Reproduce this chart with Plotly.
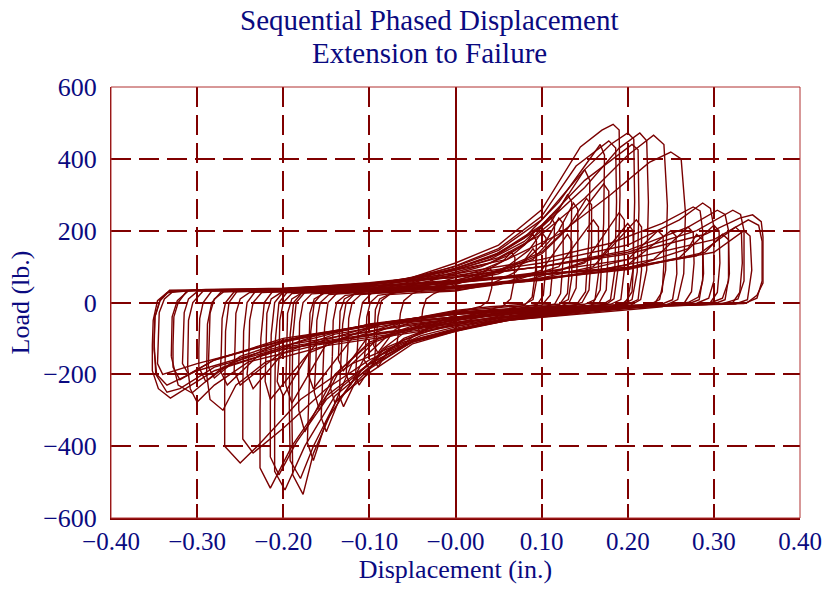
import plotly.graph_objects as go

# ---- data: hysteresis loops (displacement in., load lb.) ----
prepeak_loops = [
    [(-0.040,-60),(-0.038,-20),(-0.034,10),(-0.025,25),(-0.01,40),(0.0,50),(0.015,62),(0.03,80),(0.04,95),
     (0.043,85),(0.042,40),(0.038,5),(0.03,-10),(0.015,-20),(0.0,-35),(-0.015,-48),(-0.03,-65),(-0.04,-85),(-0.043,-75),(-0.041,-60)],
    [(-0.066,-80),(-0.064,-30),(-0.06,5),(-0.05,25),(-0.03,40),(0,60),(0.02,75),(0.04,95),(0.055,115),(0.065,140),
     (0.069,125),(0.068,60),(0.064,10),(0.055,-10),(0.03,-25),(0,-45),(-0.02,-60),(-0.04,-80),(-0.055,-105),(-0.065,-130),(-0.068,-115),(-0.066,-80)],
    [(-0.092,-100),(-0.09,-40),(-0.086,5),(-0.075,25),(-0.05,38),(-0.02,55),(0,70),(0.03,90),(0.06,120),(0.08,160),(0.09,190),
     (0.094,170),(0.093,90),(0.089,15),(0.08,-8),(0.05,-22),(0.02,-38),(0,-52),(-0.03,-72),(-0.06,-100),(-0.08,-140),(-0.09,-180),(-0.094,-160),(-0.092,-100)],
    [(-0.114,-130),(-0.112,-50),(-0.108,0),(-0.098,25),(-0.07,40),(-0.03,60),(0,80),(0.03,100),(0.06,130),(0.09,180),(0.11,240),
     (0.115,220),(0.114,120),(0.11,20),(0.1,-8),(0.07,-22),(0.03,-40),(0,-58),(-0.03,-78),(-0.06,-105),(-0.09,-150),(-0.112,-230),(-0.116,-200),(-0.114,-130)],
    [(-0.133,-160),(-0.131,-60),(-0.127,0),(-0.117,25),(-0.09,38),(-0.05,55),(0,85),(0.04,110),(0.08,160),(0.11,220),(0.13,300),
     (0.135,280),(0.134,150),(0.13,25),(0.12,-8),(0.09,-22),(0.05,-38),(0,-62),(-0.04,-85),(-0.08,-125),(-0.11,-190),(-0.13,-290),(-0.135,-260),(-0.133,-160)],
    [(-0.154,-200),(-0.152,-70),(-0.148,0),(-0.138,25),(-0.1,38),(-0.05,58),(0,90),(0.04,120),(0.08,170),(0.12,260),(0.15,370),
     (0.156,340),(0.155,180),(0.151,30),(0.14,-8),(0.1,-25),(0.05,-42),(0,-68),(-0.04,-92),(-0.08,-135),(-0.11,-190),(-0.135,-270),(-0.15,-360),(-0.156,-320),(-0.154,-200)],
    [(-0.17,-240),(-0.168,-80),(-0.164,0),(-0.154,28),(-0.11,40),(-0.05,62),(0,95),(0.04,125),(0.08,180),(0.12,280),(0.15,380),(0.168,440),
     (0.173,410),(0.172,220),(0.168,35),(0.158,-8),(0.11,-28),(0.05,-45),(0,-72),(-0.04,-98),(-0.08,-145),(-0.12,-220),(-0.15,-330),(-0.165,-440),(-0.172,-390),(-0.17,-240)],
    [(-0.19,-300),(-0.189,-100),(-0.185,0),(-0.175,28),(-0.12,42),(-0.05,70),(0,110),(0.05,160),(0.1,258),(0.145,433),(0.17,480),(0.183,496),
     (0.19,480),(0.191,300),(0.189,100),(0.184,10),(0.172,-10),(0.12,-30),(0.05,-50),(0,-80),(-0.05,-115),(-0.1,-196),(-0.138,-271),(-0.165,-420),(-0.177,-534),(-0.189,-480),(-0.19,-300)],
    [(-0.193,-280),(-0.192,-90),(-0.188,0),(-0.178,28),(-0.12,40),(-0.05,66),(0,102),(0.05,150),(0.1,240),(0.14,380),(0.178,450),
     (0.186,430),(0.187,280),(0.185,90),(0.18,8),(0.168,-10),(0.12,-28),(0.05,-48),(0,-76),(-0.05,-108),(-0.1,-185),(-0.14,-280),(-0.165,-400),(-0.18,-490),(-0.192,-440),(-0.193,-280)],
    [(-0.21,-300),(-0.209,-100),(-0.205,0),(-0.195,30),(-0.13,42),(-0.06,65),(0,100),(0.05,145),(0.1,230),(0.15,370),(0.18,440),(0.2,472),
     (0.207,455),(0.208,280),(0.206,90),(0.2,8),(0.19,-10),(0.13,-30),(0.06,-48),(0,-78),(-0.05,-110),(-0.1,-180),(-0.14,-260),(-0.175,-400),(-0.198,-522),(-0.21,-470),(-0.21,-300)],
    [(-0.215,-280),(-0.214,-90),(-0.21,0),(-0.2,30),(-0.13,40),(-0.06,62),(0,95),(0.05,138),(0.1,215),(0.15,340),(0.205,440),
     (0.212,425),(0.213,260),(0.211,85),(0.205,8),(0.19,-10),(0.13,-30),(0.06,-48),(0,-76),(-0.05,-106),(-0.1,-172),(-0.15,-270),(-0.185,-390),(-0.205,-480),(-0.215,-430),(-0.215,-280)],
    [(-0.227,-300),(-0.226,-100),(-0.222,0),(-0.212,32),(-0.14,42),(-0.06,62),(0,95),(0.05,135),(0.1,210),(0.15,320),(0.19,430),(0.214,472),
     (0.222,450),(0.224,280),(0.222,90),(0.215,8),(0.2,-12),(0.13,-32),(0.06,-50),(0,-80),(-0.05,-110),(-0.1,-170),(-0.15,-260),(-0.19,-400),(-0.215,-517),(-0.227,-460),(-0.227,-300)],
    [(-0.247,-250),(-0.246,-80),(-0.242,0),(-0.232,32),(-0.15,42),(-0.07,60),(0,92),(0.05,125),(0.1,190),(0.15,290),(0.2,410),(0.23,466),
     (0.242,440),(0.246,270),(0.244,90),(0.237,8),(0.22,-12),(0.14,-30),(0.06,-50),(0,-78),(-0.05,-108),(-0.1,-160),(-0.15,-240),(-0.2,-350),(-0.235,-419),(-0.247,-380),(-0.247,-250)],
    [(-0.268,-250),(-0.267,-80),(-0.263,0),(-0.253,33),(-0.16,42),(-0.07,60),(0,90),(0.06,120),(0.12,190),(0.18,300),(0.225,390),(0.25,419),
     (0.262,400),(0.267,250),(0.265,80),(0.258,8),(0.24,-12),(0.15,-30),(0.06,-50),(0,-76),(-0.06,-110),(-0.12,-170),(-0.18,-270),(-0.23,-400),(-0.25,-447),(-0.268,-400),(-0.268,-250)],
]

decay_loops = [
    [(-0.104,-110),(-0.103,-40),(-0.099,0),(-0.09,20),(-0.06,30),(-0.03,40),(0,52),(0.03,70),(0.06,100),(0.085,145),(0.1,195),
     (0.105,180),(0.105,100),(0.102,20),(0.095,-5),(0.07,-18),(0.03,-30),(0,-42),(-0.03,-58),(-0.06,-85),(-0.085,-130),(-0.1,-185),(-0.106,-160),(-0.104,-110)],
    [(-0.125,-130),(-0.124,-45),(-0.12,0),(-0.11,22),(-0.07,30),(-0.03,42),(0,55),(0.04,78),(0.08,115),(0.105,170),(0.12,235),
     (0.125,220),(0.125,120),(0.122,25),(0.115,-5),(0.09,-18),(0.04,-32),(0,-44),(-0.04,-62),(-0.08,-95),(-0.105,-150),(-0.122,-230),(-0.127,-200),(-0.125,-130)],
    [(-0.143,-150),(-0.142,-50),(-0.138,0),(-0.128,20),(-0.09,28),(-0.04,40),(0,55),(0.05,80),(0.09,120),(0.12,200),(0.137,277),
     (0.142,260),(0.142,150),(0.14,40),(0.132,0),(0.12,-12),(0.08,-22),(0.03,-35),(0,-45),(-0.05,-65),(-0.09,-100),(-0.12,-170),(-0.14,-280),(-0.145,-240),(-0.143,-150)],
    [(-0.162,-160),(-0.161,-50),(-0.157,0),(-0.147,22),(-0.1,30),(-0.05,42),(0,58),(0.05,85),(0.1,135),(0.13,205),(0.152,290),
     (0.158,272),(0.158,150),(0.155,35),(0.147,0),(0.13,-12),(0.08,-24),(0.03,-38),(0,-48),(-0.05,-70),(-0.1,-110),(-0.135,-190),(-0.158,-300),(-0.164,-250),(-0.162,-160)],
    [(-0.182,-180),(-0.181,-55),(-0.177,0),(-0.167,24),(-0.11,32),(-0.05,45),(0,62),(0.05,90),(0.1,140),(0.14,230),(0.172,330),
     (0.178,310),(0.178,170),(0.175,35),(0.167,0),(0.15,-12),(0.09,-24),(0.03,-40),(0,-50),(-0.05,-72),(-0.1,-115),(-0.14,-200),(-0.175,-360),(-0.182,-300),(-0.182,-180)],
    [(-0.205,-160),(-0.204,-50),(-0.2,0),(-0.19,25),(-0.14,32),(-0.07,42),(0,55),(0.06,70),(0.12,90),(0.17,130),(0.2,220),
     (0.206,200),(0.207,120),(0.205,30),(0.197,0),(0.18,-12),(0.12,-22),(0.05,-35),(0,-45),(-0.06,-62),(-0.12,-90),(-0.17,-140),(-0.2,-260),(-0.207,-220),(-0.205,-160)],
    [(-0.24,-150),(-0.239,-50),(-0.235,0),(-0.225,28),(-0.16,34),(-0.08,42),(0,55),(0.08,72),(0.15,90),(0.2,120),(0.235,200),
     (0.241,185),(0.242,110),(0.24,30),(0.232,0),(0.21,-12),(0.13,-20),(0.05,-32),(0,-42),(-0.07,-60),(-0.14,-88),(-0.2,-140),(-0.235,-240),(-0.242,-200),(-0.24,-150)],
    [(-0.272,-140),(-0.271,-45),(-0.267,0),(-0.257,30),(-0.18,36),(-0.09,44),(0,58),(0.09,75),(0.17,92),(0.23,120),(0.27,210),
     (0.276,195),(0.277,110),(0.274,30),(0.266,0),(0.24,-10),(0.15,-18),(0.06,-30),(0,-40),(-0.08,-58),(-0.16,-90),(-0.23,-150),(-0.265,-230),(-0.273,-190),(-0.272,-140)],
    [(-0.298,-130),(-0.297,-45),(-0.293,0),(-0.283,32),(-0.2,37),(-0.1,45),(0,60),(0.1,78),(0.2,95),(0.26,125),(0.3,215),
     (0.306,200),(0.307,110),(0.304,28),(0.296,0),(0.27,-8),(0.17,-16),(0.07,-28),(0,-40),(-0.1,-62),(-0.18,-95),(-0.25,-150),(-0.29,-220),(-0.298,-180),(-0.298,-130)],
    [(-0.328,-120),(-0.327,-40),(-0.322,0),(-0.312,32),(-0.22,37),(-0.1,46),(0,62),(0.1,80),(0.2,98),(0.28,130),(0.325,210),
     (0.332,195),(0.333,110),(0.33,28),(0.322,0),(0.29,-6),(0.18,-15),(0.08,-28),(0,-40),(-0.1,-64),(-0.2,-100),(-0.28,-160),(-0.32,-215),(-0.328,-180),(-0.328,-120)],
]

stabilized_loops = [
    [(-0.094,-80),(-0.093,-20),(-0.088,10),(-0.078,22),(-0.05,26),(0,32),(0.04,50),(0.07,85),(0.09,150),
     (0.094,135),(0.094,60),(0.09,8),(0.08,-5),(0.04,-12),(0,-22),(-0.04,-40),(-0.07,-75),(-0.09,-140),(-0.095,-120),(-0.094,-80)],
    [(-0.135,-100),(-0.134,-25),(-0.129,10),(-0.118,24),(-0.08,28),(0,35),(0.05,50),(0.1,90),(0.13,190),
     (0.135,170),(0.135,70),(0.131,8),(0.12,-5),(0.06,-12),(0,-24),(-0.05,-45),(-0.1,-90),(-0.13,-190),(-0.136,-160),(-0.135,-100)],
    [(-0.17,-120),(-0.169,-30),(-0.164,10),(-0.153,25),(-0.1,30),(0,38),(0.06,55),(0.12,100),(0.16,230),
     (0.166,210),(0.166,80),(0.162,8),(0.15,-5),(0.08,-14),(0,-26),(-0.06,-50),(-0.12,-100),(-0.165,-240),(-0.171,-200),(-0.17,-120)],
    [(-0.196,-130),(-0.195,-30),(-0.19,10),(-0.179,26),(-0.1,32),(0,40),(0.08,60),(0.15,110),(0.19,250),
     (0.196,230),(0.196,90),(0.192,8),(0.18,-5),(0.1,-15),(0,-28),(-0.08,-55),(-0.15,-115),(-0.19,-280),(-0.197,-230),(-0.196,-130)],
    [(-0.22,-130),(-0.219,-30),(-0.214,10),(-0.203,27),(-0.12,32),(0,40),(0.08,58),(0.16,100),(0.21,230),
     (0.216,210),(0.216,90),(0.212,8),(0.2,-5),(0.1,-15),(0,-28),(-0.08,-55),(-0.16,-110),(-0.215,-270),(-0.221,-220),(-0.22,-130)],
    [(-0.256,-120),(-0.255,-30),(-0.25,10),(-0.239,28),(-0.14,33),(0,42),(0.1,62),(0.2,105),(0.25,200),
     (0.256,185),(0.257,80),(0.252,8),(0.24,-4),(0.12,-15),(0,-30),(-0.1,-60),(-0.19,-115),(-0.25,-230),(-0.257,-190),(-0.256,-120)],
    [(-0.286,-110),(-0.285,-30),(-0.28,10),(-0.269,30),(-0.15,34),(0,44),(0.1,64),(0.2,95),(0.27,150),(0.28,190),
     (0.287,175),(0.288,80),(0.283,8),(0.27,-4),(0.14,-14),(0,-32),(-0.1,-62),(-0.2,-110),(-0.26,-170),(-0.28,-210),(-0.287,-180),(-0.286,-110)],
    [(-0.316,-100),(-0.315,-28),(-0.31,10),(-0.299,32),(-0.16,35),(0,45),(0.1,66),(0.2,92),(0.29,140),(0.31,190),
     (0.317,175),(0.318,80),(0.313,8),(0.3,-4),(0.15,-14),(0,-32),(-0.1,-62),(-0.2,-105),(-0.28,-160),(-0.31,-200),(-0.317,-170),(-0.316,-100)],
    [(-0.345,-100),(-0.344,-28),(-0.338,10),(-0.327,33),(-0.17,36),(0,46),(0.1,68),(0.2,95),(0.3,140),(0.335,200),
     (0.342,185),(0.344,90),(0.339,8),(0.325,-4),(0.16,-13),(0,-33),(-0.1,-64),(-0.2,-108),(-0.3,-170),(-0.34,-200),(-0.346,-170),(-0.345,-100)],
    [(-0.35,-130),(-0.349,-40),(-0.343,8),(-0.332,34),(-0.2,38),(0,55),(0.1,85),(0.2,120),(0.3,175),(0.34,230),
     (0.352,215),(0.356,170),(0.356,60),(0.35,12),(0.335,-3),(0.2,-10),(0.1,-22),(0,-45),(-0.1,-80),(-0.2,-120),(-0.3,-190),(-0.335,-230),(-0.347,-200),(-0.35,-130)],
]

postpeak_loops = [
    [(-0.289,-200),(-0.288,-60),(-0.283,0),(-0.272,30),(-0.2,38),(-0.1,55),(0,80),(0.1,120),(0.18,165),(0.24,220),(0.276,266),
     (0.284,255),(0.287,200),(0.287,60),(0.282,15),(0.27,0),(0.22,-12),(0.12,-30),(0.05,-50),(0,-65),(-0.08,-95),(-0.15,-120),(-0.22,-165),(-0.255,-230),(-0.27,-300),(-0.285,-270),(-0.289,-200)],
    [(-0.311,-180),(-0.31,-50),(-0.305,0),(-0.293,32),(-0.2,38),(-0.1,52),(0,75),(0.1,110),(0.2,160),(0.26,230),(0.287,277),
     (0.296,262),(0.3,210),(0.3,60),(0.294,12),(0.28,-2),(0.22,-12),(0.12,-28),(0.05,-45),(0,-62),(-0.08,-90),(-0.16,-118),(-0.24,-165),(-0.28,-230),(-0.3,-277),(-0.308,-240),(-0.311,-180)],
    [(-0.33,-150),(-0.329,-40),(-0.323,5),(-0.31,33),(-0.22,36),(-0.12,48),(0,70),(0.1,100),(0.2,145),(0.27,210),(0.304,257),
     (0.313,245),(0.317,200),(0.317,60),(0.31,12),(0.295,-2),(0.22,-10),(0.12,-25),(0.05,-42),(0,-58),(-0.1,-92),(-0.2,-130),(-0.27,-180),(-0.306,-252),(-0.322,-230),(-0.33,-150)],
    [(-0.352,-120),(-0.351,-50),(-0.346,5),(-0.335,27),(-0.3,35),(-0.2,38),(-0.1,50),(0,70),(0.1,100),(0.2,140),(0.28,200),(0.322,257),
     (0.331,245),(0.335,200),(0.335,60),(0.328,10),(0.31,-3),(0.22,-10),(0.12,-25),(0.05,-40),(0,-56),(-0.1,-90),(-0.2,-130),(-0.28,-190),(-0.331,-266),(-0.345,-240),(-0.352,-190),(-0.352,-120)],
    [(-0.35,-110),(-0.349,-40),(-0.343,5),(-0.333,30),(-0.29,36),(-0.2,40),(-0.1,52),(0,72),(0.1,100),(0.2,135),(0.29,190),(0.33,235),(0.345,244),
     (0.355,225),(0.357,183),(0.357,54),(0.35,20),(0.339,0),(0.3,-5),(0.2,-12),(0.1,-28),(0,-55),(-0.1,-88),(-0.2,-125),(-0.28,-180),(-0.32,-240),(-0.335,-250),(-0.348,-200),(-0.35,-110)],
]

x_ticks = [-0.4, -0.3, -0.2, -0.1, 0.0, 0.1, 0.2, 0.3, 0.4]
x_tick_text = ["\u22120.40", "\u22120.30", "\u22120.20", "\u22120.10", "\u22120.00", "0.10", "0.20", "0.30", "0.40"]
y_ticks = [-600, -400, -200, 0, 200, 400, 600]
y_tick_text = ["\u2212600", "\u2212400", "\u2212200", "0", "200", "400", "600"]
title_lines = ["Sequential Phased Displacement", "Extension to Failure"]

# ---- build path ----
xs, ys = [], []
for group in (prepeak_loops, decay_loops, stabilized_loops, postpeak_loops):
    for loop in group:
        pts = list(loop) + [loop[0]]
        xs += [p[0] for p in pts] + [None]
        ys += [p[1] for p in pts] + [None]

RED = "#800000"
NAVY = "#0a0a80"
FONT = "Liberation Serif, DejaVu Serif, serif"

fig = go.Figure()
fig.add_trace(go.Scatter(x=xs, y=ys, mode="lines", line=dict(color="#7a0000", width=1.4),
                         connectgaps=False, hoverinfo="skip", showlegend=False))

fig.update_layout(
    width=826, height=590,
    margin=dict(l=111, r=26, t=87, b=72),
    paper_bgcolor="white", plot_bgcolor="white",
    font=dict(family=FONT, color=NAVY),
)
for line, ypix in zip(title_lines, (20, 53)):
    fig.add_annotation(text=line, xref="paper", yref="paper",
                       x=(429 - 111) / 689, y=1 + (87 - ypix) / 431,
                       xanchor="center", yanchor="middle", showarrow=False,
                       font=dict(family=FONT, size=29, color=NAVY))

fig.update_xaxes(
    range=[-0.4, 0.4], tickvals=x_ticks, ticktext=x_tick_text, automargin=False,
    tickfont=dict(size=25, color=NAVY, family=FONT),
    showgrid=True, gridcolor=RED, gridwidth=2, griddash="20px,8px",
    zeroline=True, zerolinecolor=RED, zerolinewidth=2,
    showline=True, linecolor=RED, linewidth=2,
    ticks="inside", ticklen=14, tickwidth=2, tickcolor=RED,
    title=dict(text="Displacement (in.)", font=dict(size=26, color=NAVY, family=FONT), standoff=2),
)
fig.update_yaxes(
    range=[-600, 600], tickvals=y_ticks, ticktext=y_tick_text, automargin=False,
    tickfont=dict(size=26, color=NAVY, family=FONT), ticklabelstandoff=8,
    showgrid=True, gridcolor=RED, gridwidth=2, griddash="20px,8px",
    zeroline=False,
    showline=True, linecolor=RED, linewidth=1,
    ticks="inside", ticklen=8, tickwidth=2, tickcolor=RED,
    title=dict(text="Load (lb.)", font=dict(size=26, color=NAVY, family=FONT), standoff=6),
)
fig.add_shape(type="rect", xref="paper", yref="paper", x0=0, y0=0, x1=1, y1=1,
              line=dict(color="#b03030", width=1), fillcolor="rgba(0,0,0,0)", layer="above")

fig.write_html("out.html")
